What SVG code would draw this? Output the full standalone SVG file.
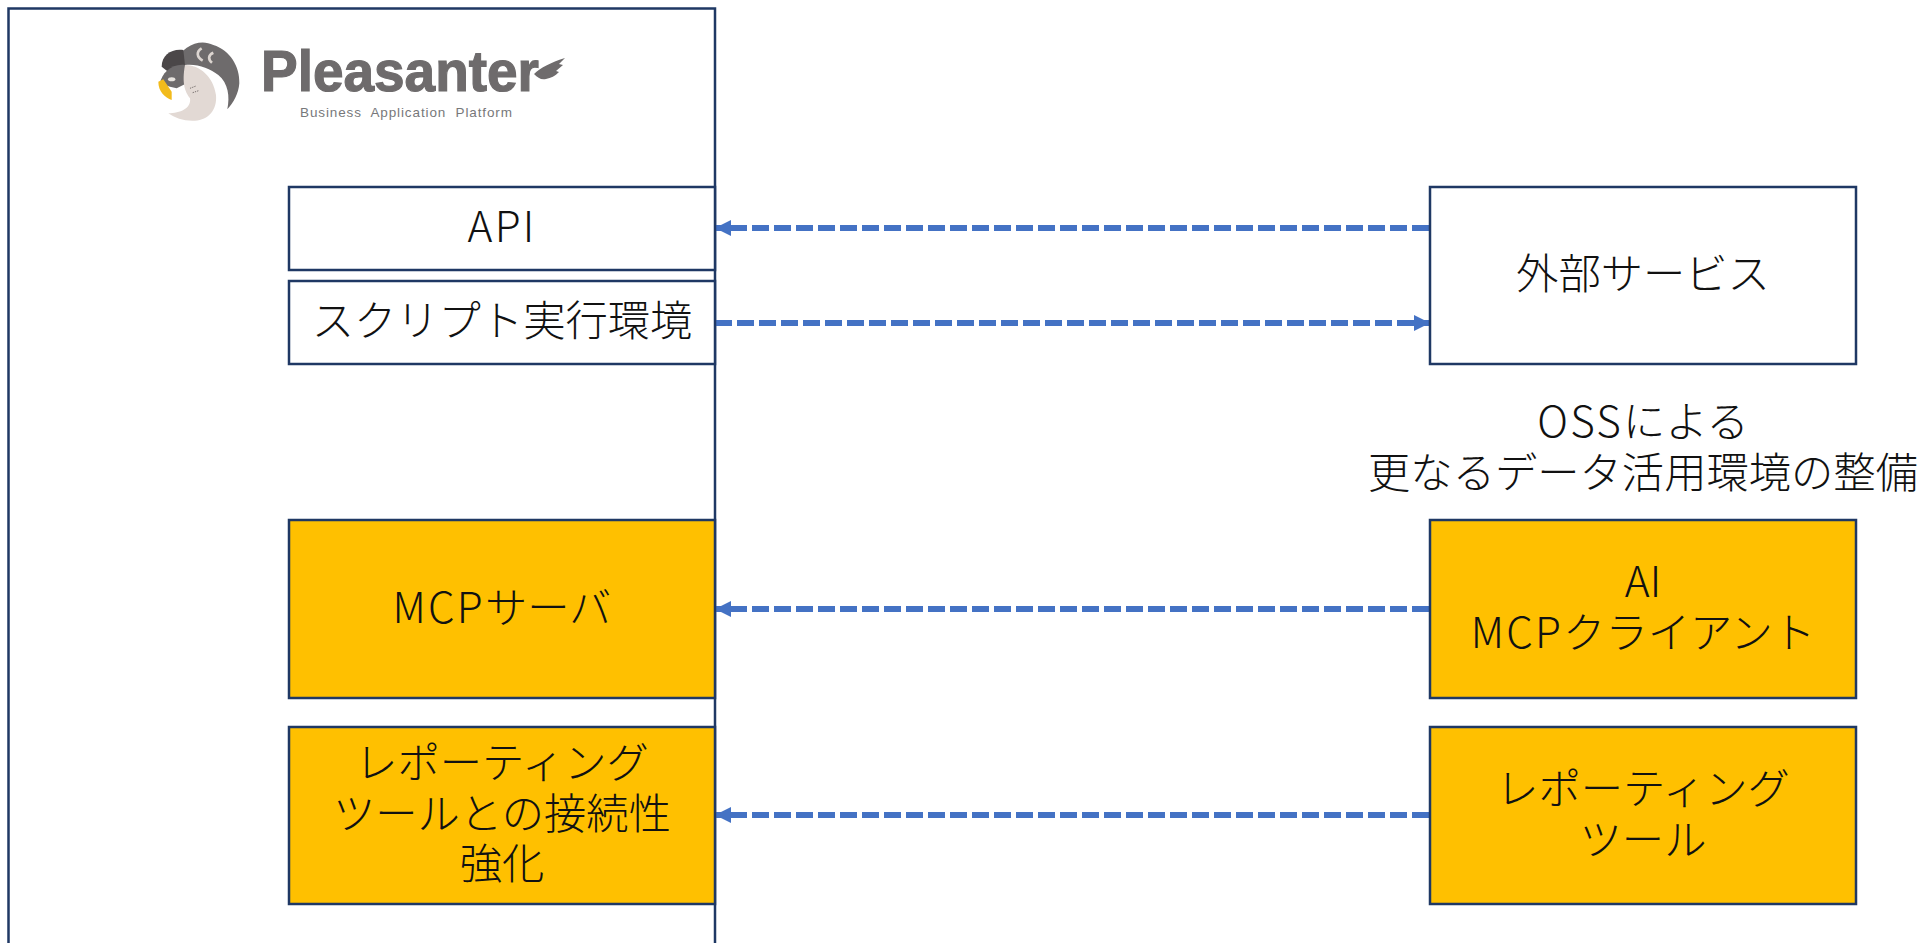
<svg xmlns="http://www.w3.org/2000/svg" width="1919" height="943" viewBox="0 0 1919 943">
<style>
.b{fill:#fff;stroke:#1f3864;stroke-width:2.500}
.o{fill:#ffc000;stroke:#1f3864;stroke-width:2.500}
.t{font-family:"Noto Sans CJK JP","Noto Sans",sans-serif;font-weight:300;font-size:42.3px;fill:#111;text-anchor:middle}
.l{letter-spacing:2.2px}
.c{stroke:#4472c4;stroke-width:5.800;stroke-dasharray:17 5;fill:none}
</style>
<defs>
<marker id="ar" markerUnits="userSpaceOnUse" markerWidth="17" markerHeight="18" refX="15" refY="9" orient="auto"><path d="M0 1L16 9L0 17Z" fill="#4472c4"/></marker>
</defs>
<rect width="1919" height="943" fill="#fff"/>
<g id="platform">
<rect class="b" x="8.5" y="8.5" width="706.500" height="960"/>
<g id="logo">
<g transform="translate(130,20) scale(0.3333)">
<path d="M130 130C160 75 210 55 250 75C300 90 330 140 328 190C326 220 310 250 292 268C300 230 295 190 265 165C240 145 200 130 165 135Z" fill="#6e6b6c"/>
<path d="M95 140C95 105 125 85 160 90L165 135L120 160Z" fill="#4b4748"/>
<path d="M90 190C95 160 125 130 165 135L170 190L140 205L120 200Z" fill="#6e6b6c"/>
<path d="M165 135C210 135 250 170 258 225C262 270 235 300 195 302C165 304 135 295 115 280C150 280 185 265 180 235C165 215 155 190 165 135Z" fill="#e2d9d4"/>
<path d="M85 185L100 178L125 215L125 240C105 232 85 215 85 185Z" fill="#f2bb1c"/>
<ellipse cx="125" cy="178" rx="11" ry="6" fill="#e8e4df"/>
<path d="M215 85C198 95 200 112 218 122M250 98C234 105 234 118 246 128" stroke="#dcd5d0" stroke-width="8" fill="none"/>
<path d="M180 205L198 198M188 218L206 212" stroke="#77706e" stroke-width="3" stroke-dasharray="4 3" fill="none"/>
</g>
<text x="261" y="91" style="font-family:'Liberation Sans',sans-serif;font-weight:700;font-size:57px;fill:#6e6b6c;stroke:#6e6b6c;stroke-width:1.200" textLength="278" lengthAdjust="spacingAndGlyphs">Pleasanter</text>
<path d="M534 74C540 68 552 62 565 58L559 64L563 65L556 71L559 72C555 76 551 78 546 79C541 80 538 78 534 74Z" fill="#6e6b6c"/>
<text x="300" y="117" style="font-family:'Liberation Sans',sans-serif;font-size:13.5px;fill:#77787a" textLength="212" xml:space="preserve">Business  Application  Platform</text>
</g>
</g>
<g id="connectors">
<path class="c" d="M1429 228H716" marker-end="url(#ar)"/>
<path class="c" d="M715 323H1429" marker-end="url(#ar)"/>
<path class="c" d="M1429 609H716" marker-end="url(#ar)"/>
<path class="c" d="M1429 815H716" marker-end="url(#ar)"/>
</g>
<g id="api"><rect class="b" x="289" y="187" width="426" height="83"/><text class="t l" x="502" y="242">API</text></g>
<g id="script"><rect class="b" x="289" y="281" width="426" height="83"/><text class="t" x="502" y="336">スクリプト実行環境</text></g>
<g id="mcp"><rect class="o" x="289" y="520" width="426" height="178"/><text class="t" x="502" y="623"><tspan class="l">MCP</tspan>サーバ</text></g>
<g id="report"><rect class="o" x="289" y="727" width="426" height="177"/><text class="t" x="502" y="778">レポーティング</text><text class="t" x="502" y="829">ツールとの接続性</text><text class="t" x="502" y="879">強化</text></g>
<g id="external"><rect class="b" x="1430" y="187" width="426" height="177"/><text class="t" x="1643" y="289">外部サービス</text></g>
<g id="oss"><text class="t" x="1643" y="437"><tspan class="l">OSS</tspan>による</text><text class="t" x="1643" y="488">更なるデータ活用環境の整備</text></g>
<g id="client"><rect class="o" x="1430" y="520" width="426" height="178"/><text class="t" x="1643" y="597">AI</text><text class="t" x="1643" y="648"><tspan class="l">MCP</tspan>クライアント</text></g>
<g id="tool"><rect class="o" x="1430" y="727" width="426" height="177"/><text class="t" x="1643" y="804">レポーティング</text><text class="t" x="1643" y="855">ツール</text></g>
</svg>
